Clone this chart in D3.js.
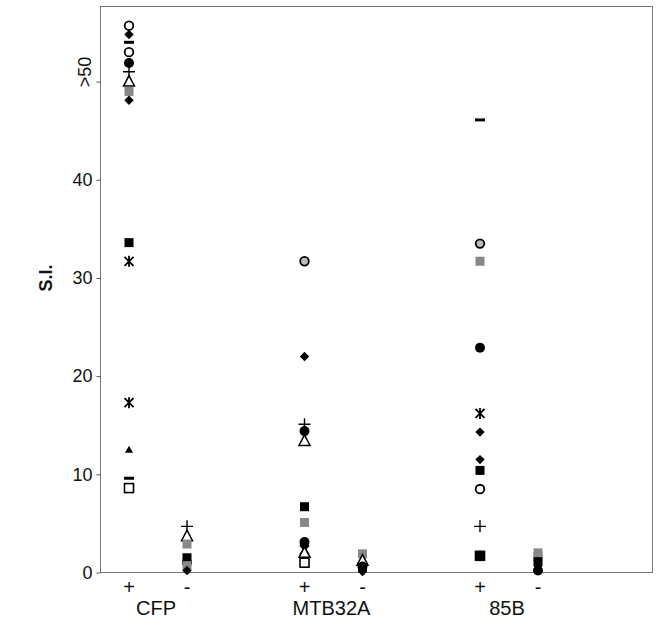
<!DOCTYPE html>
<html>
<head>
<meta charset="utf-8">
<script src="https://cdn.jsdelivr.net/npm/d3@7"></script>
<style>
  body { margin: 0; background: #fff; }
  text { font-family: "Liberation Sans", Arial, sans-serif; fill: #111; }
</style>
</head>
<body>
<script>
var width = 658, height = 622;

var groups = ["CFP", "MTB32A", "85B"];
var conditions = ["+", "-"];
var yTicks = [0, 10, 20, 30, 40, 50];

// one value + one symbol per donor, per column
var cfpPlus = [55.7, 54.8, 54.0, 53.0, 51.9, 51.0, 50.0, 49.0, 48.1, 33.6, 31.7, 17.3, 12.5, 9.6, 8.6];
var cfpPlusSym = ["circleOpen", "diamond", "dash", "circleOpen", "circle", "plus", "triangleOpen", "squareGray", "diamond", "square", "asterisk", "asterisk", "triangleSmall", "dash", "squareOpen"];
var cfpMinus = [4.7, 3.7, 2.9, 1.5, 1.0, 0.7, 0.2];
var cfpMinusSym = ["plus", "triangleOpen", "squareGray", "square", "circle", "squareGray", "diamond"];

var mtbPlus = [31.7, 22.0, 15.1, 14.4, 13.4, 6.7, 5.1, 3.1, 2.8, 2.3, 2.0, 1.0];
var mtbPlusSym = ["circleGray", "diamond", "plus", "circle", "triangleOpen", "square", "squareGray", "circle", "diamond", "asterisk", "triangleOpen", "squareOpen"];
var mtbMinus = [1.9, 1.2, 0.6, 0.5, 0.1];
var mtbMinusSym = ["squareGray", "triangleOpen", "circle", "square", "diamond"];

var b85Plus = [46.1, 33.5, 31.7, 22.9, 16.2, 14.3, 11.5, 10.4, 8.5, 4.7, 1.7, 1.7];
var b85PlusSym = ["dash", "circleGray", "squareGray", "circle", "asterisk", "diamond", "diamond", "square", "circleOpen", "plus", "squareOpen", "square"];
var b85Minus = [2.0, 1.6, 1.1, 0.7, 0.2];
var b85MinusSym = ["squareGray", "squareGray", "square", "diamond", "circle"];

var columns = [
  {group: "CFP", cond: "+", values: cfpPlus, symbols: cfpPlusSym},
  {group: "CFP", cond: "-", values: cfpMinus, symbols: cfpMinusSym},
  {group: "MTB32A", cond: "+", values: mtbPlus, symbols: mtbPlusSym},
  {group: "MTB32A", cond: "-", values: mtbMinus, symbols: mtbMinusSym},
  {group: "85B", cond: "+", values: b85Plus, symbols: b85PlusSym},
  {group: "85B", cond: "-", values: b85Minus, symbols: b85MinusSym}
];

var margin = {top: 6, right: 6, bottom: 49, left: 100};

var svg = d3.select("body").append("svg")
  .attr("width", width)
  .attr("height", height);

var x = d3.scalePoint().domain(groups).range([158, 509]);
var xSub = d3.scalePoint().domain(conditions).range([-29, 29]);
var y = d3.scaleLinear().domain([0, 57.7]).range([height - margin.bottom - 0.5, margin.top]);

// frame
svg.append("rect")
  .attr("x", margin.left + 0.5)
  .attr("y", margin.top + 0.5)
  .attr("width", width - margin.left - margin.right)
  .attr("height", height - margin.top - margin.bottom - 1)
  .attr("fill", "none")
  .attr("stroke", "#777")
  .attr("stroke-width", 1);

// y axis
var yAxis = svg.append("g")
  .attr("transform", "translate(" + (margin.left + 0.5) + ",0)")
  .call(d3.axisLeft(y).tickValues(yTicks).tickSize(4).tickPadding(4)
    .tickFormat(function(d) { return d === 50 ? ">50" : d; }));
yAxis.select(".domain").remove();
yAxis.selectAll("line").attr("stroke", "#555");
yAxis.selectAll("text")
  .style("font-size", "18px")
  .attr("fill", "#111");
yAxis.selectAll(".tick").filter(function(d) { return d === 50; }).select("text")
  .attr("transform", "rotate(-90)")
  .attr("x", 10)
  .attr("y", -16)
  .attr("dy", "0.35em")
  .style("text-anchor", "middle");

svg.append("text")
  .attr("transform", "translate(52," + y(30) + ") rotate(-90)")
  .attr("text-anchor", "middle")
  .style("font-size", "18px")
  .style("font-weight", "bold")
  .text("S.I.");

// x labels
var xl = svg.append("g");
columns.forEach(function(c) {
  xl.append("text")
    .attr("x", x(c.group) + xSub(c.cond))
    .attr("y", 594)
    .attr("text-anchor", "middle")
    .style("font-size", "20px")
    .text(c.cond);
});
xl.selectAll(".grp")
  .data(groups)
  .enter()
  .append("text")
  .attr("class", "grp")
  .attr("x", function(d) { return x(d) - 2; })
  .attr("y", 615)
  .attr("text-anchor", "middle")
  .style("font-size", "20px")
  .text(function(d) { return d; });

// markers
var pts = [];
columns.forEach(function(c) {
  c.values.forEach(function(v, i) {
    pts.push({x: x(c.group) + xSub(c.cond), v: v, s: c.symbols[i]});
  });
});

var node = svg.append("g").selectAll(".pt")
  .data(pts)
  .enter()
  .append("g")
  .attr("class", "pt")
  .attr("transform", function(d) { return "translate(" + d.x + "," + y(d.v) + ")"; });

node.each(function(d) {
  var g = d3.select(this);
  if (d.s === "circleOpen") {
    g.append("circle").attr("r", 4.3).attr("fill", "#fff").attr("stroke", "#000").attr("stroke-width", 1.8);
  } else if (d.s === "circle") {
    g.append("circle").attr("r", 5).attr("fill", "#000");
  } else if (d.s === "circleGray") {
    g.append("circle").attr("r", 4.3).attr("fill", "#bbb").attr("stroke", "#000").attr("stroke-width", 1.8);
  } else if (d.s === "diamond") {
    g.append("path").attr("d", d3.symbol(d3.symbolSquare, 44)()).attr("transform", "rotate(45)").attr("fill", "#000");
  } else if (d.s === "square") {
    g.append("path").attr("d", d3.symbol(d3.symbolSquare, 81)()).attr("fill", "#000");
  } else if (d.s === "squareGray") {
    g.append("path").attr("d", d3.symbol(d3.symbolSquare, 81)()).attr("fill", "#888");
  } else if (d.s === "squareOpen") {
    g.append("rect").attr("x", -4.5).attr("y", -4.5).attr("width", 9).attr("height", 9)
      .attr("fill", "#fff").attr("stroke", "#000").attr("stroke-width", 1.6);
  } else if (d.s === "dash") {
    g.append("rect").attr("x", -5).attr("y", -1.5).attr("width", 10).attr("height", 3).attr("fill", "#000");
  } else if (d.s === "plus") {
    g.append("path").attr("d", "M-6,0H6M0,-6V6").attr("stroke", "#000").attr("stroke-width", 1.4);
  } else if (d.s === "triangleOpen") {
    g.append("path").attr("d", "M0,-6L5.5,4.5H-5.5Z").attr("fill", "#fff").attr("stroke", "#000").attr("stroke-width", 1.5);
  } else if (d.s === "triangleSmall") {
    g.append("path").attr("d", "M0,-4L4,3H-4Z").attr("fill", "#000");
  } else if (d.s === "asterisk") {
    g.append("path").attr("d", "M-4.5,-4.5L4.5,4.5M-4.5,4.5L4.5,-4.5M0,-5.5V5.5").attr("stroke", "#000").attr("stroke-width", 1.8);
  }
});
</script>
</body>
</html>
